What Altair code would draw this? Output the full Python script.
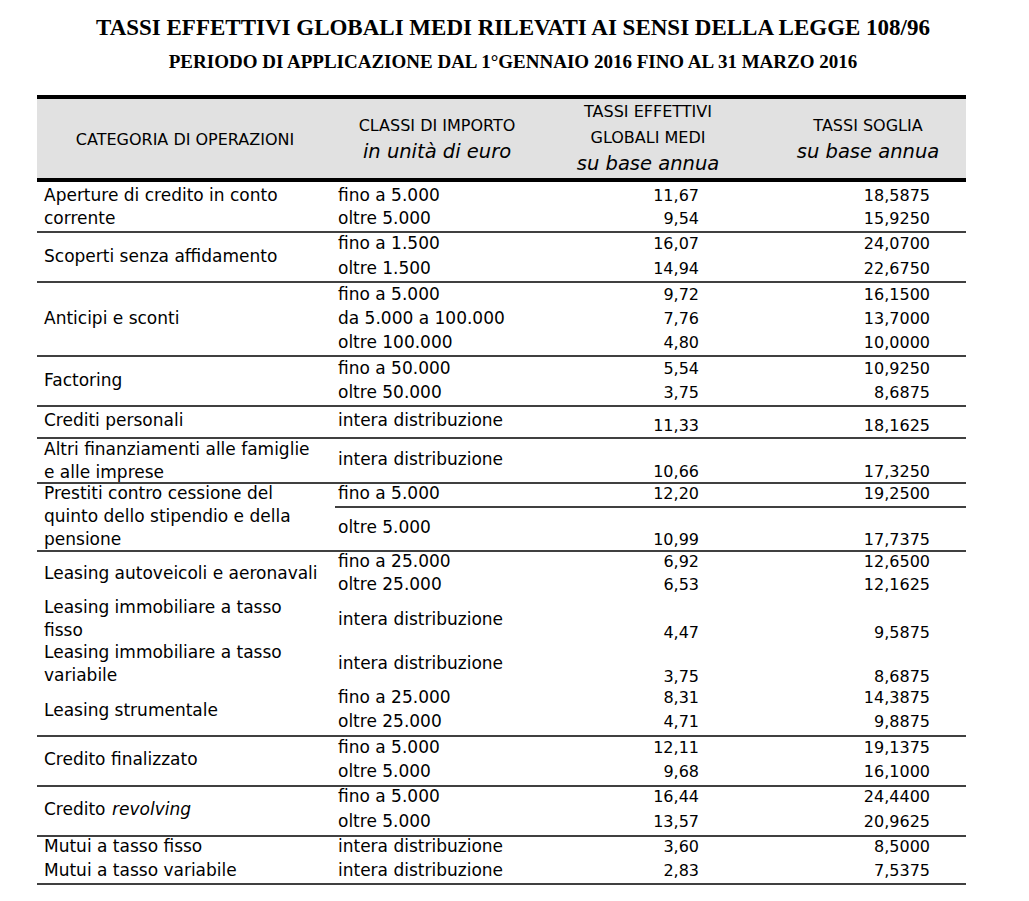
import altair as alt
import pandas as pd

# ---------------- data ----------------
title = "TASSI EFFETTIVI GLOBALI MEDI RILEVATI AI SENSI DELLA LEGGE 108/96"
subtitle = "PERIODO DI APPLICAZIONE DAL 1°GENNAIO 2016 FINO AL 31 MARZO 2016"

categories = [
    "Aperture di credito in conto\ncorrente",
    "Scoperti senza affidamento",
    "Anticipi e sconti",
    "Factoring",
    "Crediti personali",
    "Altri finanziamenti alle famiglie\ne alle imprese",
    "Prestiti contro cessione del\nquinto dello stipendio e della\npensione",
    "Leasing autoveicoli e aeronavali",
    "Leasing immobiliare a tasso\nfisso",
    "Leasing immobiliare a tasso\nvariabile",
    "Leasing strumentale",
    "Credito finalizzato",
    "Credito |revolving",
    "Mutui a tasso fisso",
    "Mutui a tasso variabile",
]
classes = [
    ["fino a 5.000", "oltre 5.000"],
    ["fino a 1.500", "oltre 1.500"],
    ["fino a 5.000", "da 5.000 a 100.000", "oltre 100.000"],
    ["fino a 50.000", "oltre 50.000"],
    ["intera distribuzione"],
    ["intera distribuzione"],
    ["fino a 5.000", "oltre 5.000"],
    ["fino a 25.000", "oltre 25.000"],
    ["intera distribuzione"],
    ["intera distribuzione"],
    ["fino a 25.000", "oltre 25.000"],
    ["fino a 5.000", "oltre 5.000"],
    ["fino a 5.000", "oltre 5.000"],
    ["intera distribuzione"],
    ["intera distribuzione"],
]
tegm = [
    [11.67, 9.54], [16.07, 14.94], [9.72, 7.76, 4.80], [5.54, 3.75], [11.33],
    [10.66], [12.20, 10.99], [6.92, 6.53], [4.47], [3.75], [8.31, 4.71],
    [12.11, 9.68], [16.44, 13.57], [3.60], [2.83],
]
soglia = [
    [18.5875, 15.9250], [24.0700, 22.6750], [16.1500, 13.7000, 10.0000],
    [10.9250, 8.6875], [18.1625], [17.3250], [19.2500, 17.7375],
    [12.6500, 12.1625], [9.5875], [8.6875], [14.3875, 9.8875],
    [19.1375, 16.1000], [24.4400, 20.9625], [8.5000], [7.5375],
]
header_cols = [
    ["CATEGORIA DI OPERAZIONI"],
    ["CLASSI DI IMPORTO", "|in unità di euro"],
    ["TASSI EFFETTIVI", "GLOBALI MEDI", "|su base annua"],
    ["TASSI SOGLIA", "|su base annua"],
]

# ---------------- layout (page pixel coordinates) ----------------
X0, X1 = 37, 966
COL_X = [44, 338, 699, 930]
ITALIC_OFFSET = 68
HEAD_X = [185, 437, 648, 868]
HEAD_Y = [[140], [126, 152], [112, 138, 164], [126, 152]]
LINE_GAP = 23
label_y = [196, 257, 319, 381, 421, 450, 494, 574, 608, 653, 711, 760, 810, 847, 871]
class_y = [[196, 219], [244, 269], [295, 319, 343], [369, 393], [421], [460],
           [494, 528], [562, 585], [620], [664], [698, 722], [748, 772],
           [797, 822], [847], [871]]
value_y = [[196, 219], [244, 269], [295, 319, 343], [369, 393], [426], [472],
           [494, 540], [562, 585], [633], [677], [698, 722], [748, 772],
           [797, 822], [847], [871]]
row_lines = [232, 282, 356, 406, 438, 483, 551, 736, 786, 836, 884]
partial_line = (335, 507)

def it(v, d):
    return f"{v:.{d}f}".replace(".", ",")

texts = []
for i, cat in enumerate(categories):
    for j, line in enumerate(cat.split("\n")):
        y = label_y[i] + j * LINE_GAP
        if "|" in line:
            a, b = line.split("|")
            texts.append(dict(x=COL_X[0], y=y, t=a.strip(), a="left", s="normal"))
            texts.append(dict(x=COL_X[0] + ITALIC_OFFSET, y=y, t=b, a="left", s="italic"))
        else:
            texts.append(dict(x=COL_X[0], y=y, t=line, a="left", s="normal"))
    for c, y in zip(classes[i], class_y[i]):
        texts.append(dict(x=COL_X[1], y=y, t=c, a="left", s="normal"))
    for v, y in zip(tegm[i], value_y[i]):
        texts.append(dict(x=COL_X[2], y=y, t=it(v, 2), a="right", s="normal"))
    for v, y in zip(soglia[i], value_y[i]):
        texts.append(dict(x=COL_X[3], y=y, t=it(v, 4), a="right", s="normal"))
df_text = pd.DataFrame(texts)

heads = []
for k, col in enumerate(header_cols):
    for h, y in zip(col, HEAD_Y[k]):
        if h.startswith("|"):
            heads.append(dict(x=HEAD_X[k], y=y, t=h[1:], s="italic"))
        else:
            heads.append(dict(x=HEAD_X[k], y=y, t=h, s="caps"))
df_head = pd.DataFrame(heads)

df_rules = pd.DataFrame(
    [dict(x=X0, x2=X1, y=y) for y in row_lines]
    + [dict(x=partial_line[0], x2=X1, y=partial_line[1])]
)
df_thick = pd.DataFrame([dict(x=X0, x2=X1, y=97), dict(x=X0, x2=X1, y=180)])
df_bg = pd.DataFrame([dict(x=X0, x2=X1, y=99, y2=178)])
df_title = pd.DataFrame([dict(x=513, y=28, t=title, sz=23), dict(x=513, y=62, t=subtitle, sz=19)])

W, H = 1013, 885
xs = alt.Scale(domain=[8, 8 + W], nice=False, zero=False)
ys = alt.Scale(domain=[8, 8 + H], nice=False, zero=False, reverse=True)
X = lambda f="x": alt.X(f"{f}:Q", scale=xs, axis=None)
Y = lambda f="y": alt.Y(f"{f}:Q", scale=ys, axis=None)

FONT = "DejaVu Sans"

bg = alt.Chart(df_bg).mark_rect(color="#e1e1e1").encode(
    x=X(), x2="x2:Q", y=Y(), y2="y2:Q")
thick = alt.Chart(df_thick).mark_rule(color="black", strokeWidth=4).encode(
    x=X(), x2="x2:Q", y=Y())
rules = alt.Chart(df_rules).mark_rule(color="black", strokeWidth=1.4).encode(
    x=X(), x2="x2:Q", y=Y())

titles = alt.Chart(df_title).mark_text(
    font="Liberation Serif", fontWeight="bold", baseline="middle", align="center", color="black"
).encode(x=X(), y=Y(), text="t:N", size=alt.Size("sz:Q", scale=None, legend=None))

head_caps = alt.Chart(df_head[df_head.s == "caps"]).mark_text(
    font=FONT, fontSize=16, align="center", baseline="middle", color="black"
).encode(x=X(), y=Y(), text="t:N")
head_it = alt.Chart(df_head[df_head.s == "italic"]).mark_text(
    font=FONT, fontSize=19.5, fontStyle="italic", align="center", baseline="middle", color="black"
).encode(x=X(), y=Y(), text="t:N")

body_left = alt.Chart(df_text[(df_text.a == "left") & (df_text.s == "normal")]).mark_text(
    font=FONT, fontSize=17, align="left", baseline="middle", color="black"
).encode(x=X(), y=Y(), text="t:N")
body_it = alt.Chart(df_text[df_text.s == "italic"]).mark_text(
    font=FONT, fontSize=17, fontStyle="italic", align="left", baseline="middle", color="black"
).encode(x=X(), y=Y(), text="t:N")
body_right = alt.Chart(df_text[df_text.a == "right"]).mark_text(
    font=FONT, fontSize=16, align="right", baseline="middle", color="black"
).encode(x=X(), y=Y(), text="t:N")

chart = alt.layer(bg, thick, rules, titles, head_caps, head_it, body_left, body_it, body_right).properties(
    width=W, height=H, padding=0, autosize=alt.AutoSizeParams(type="none"), background="white"
).configure_view(stroke=None)

chart.save("out.html", embed_options={"renderer": "svg", "actions": False})
